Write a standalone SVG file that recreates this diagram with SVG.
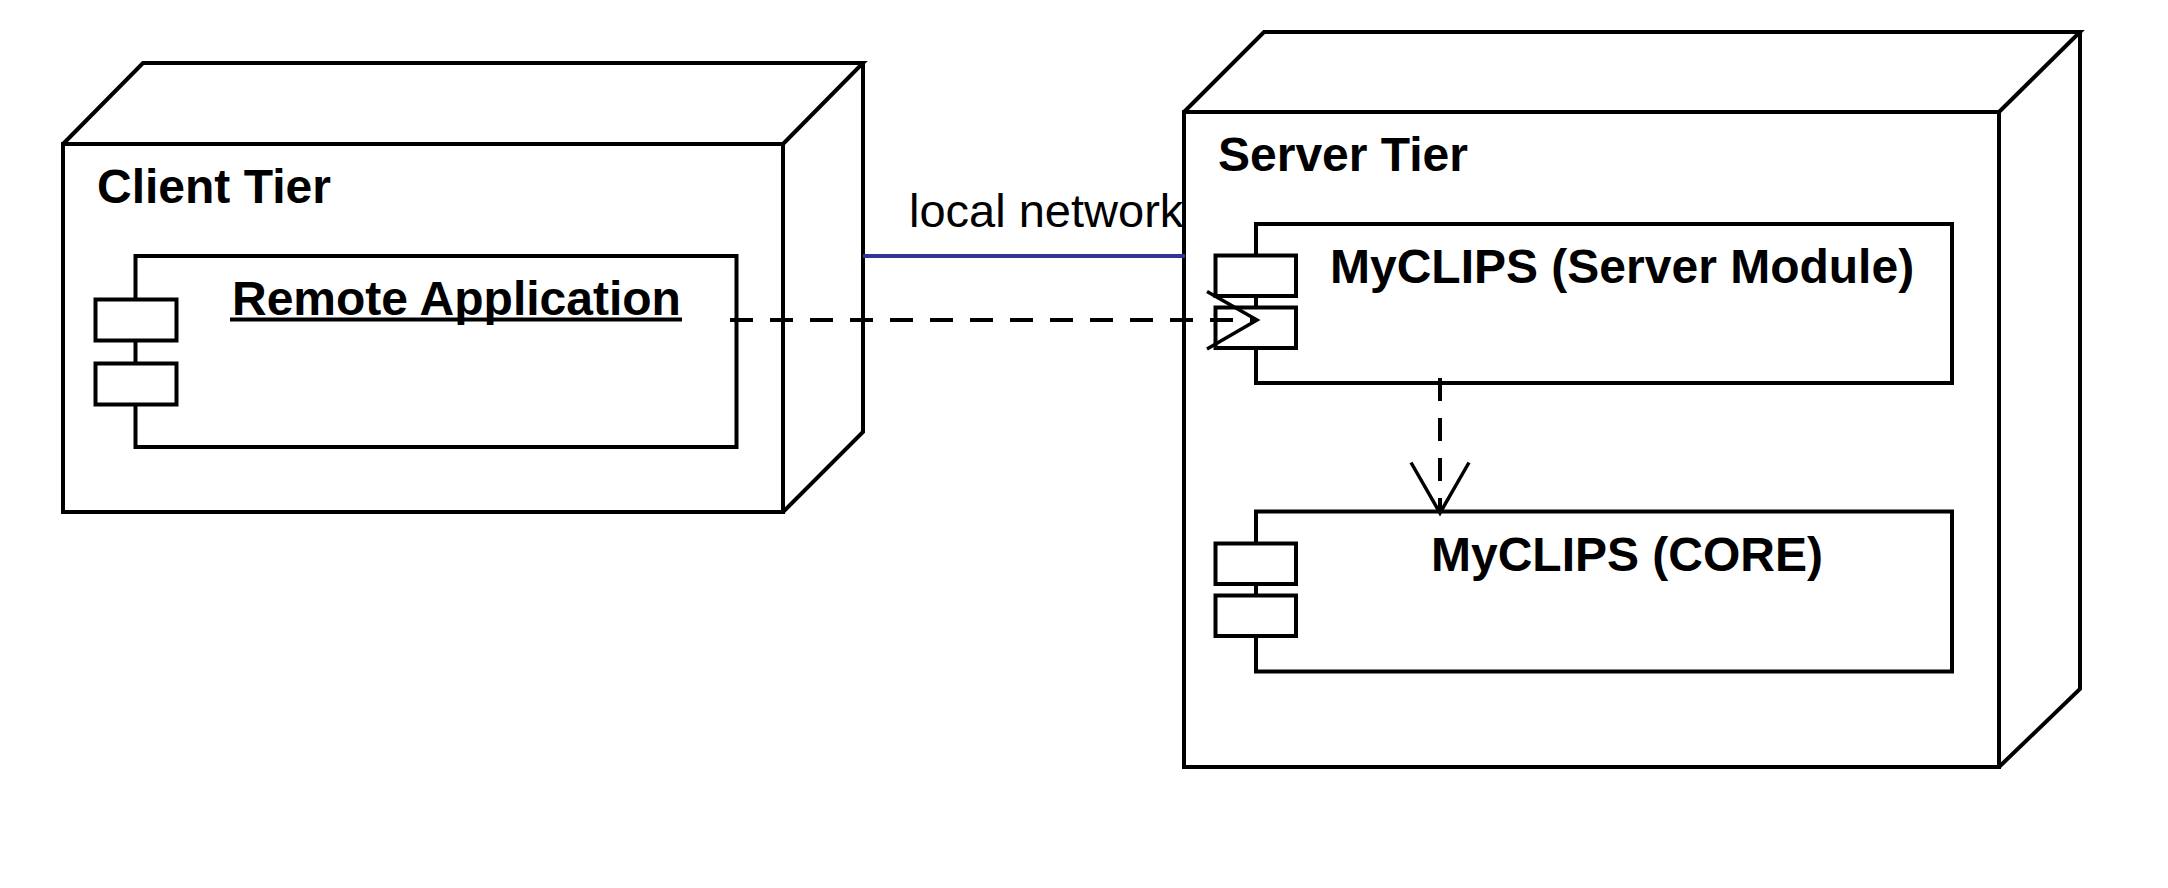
<svg xmlns="http://www.w3.org/2000/svg" width="2168" height="888" viewBox="0 0 2168 888">
<style>
.ln{fill:none;stroke:#000;stroke-width:4;stroke-linejoin:miter}
.fr{fill:#fff;stroke:#000;stroke-width:4}
.port{fill:#fff;stroke:#000;stroke-width:4}
.t{font-family:"Liberation Sans",Arial,sans-serif;font-weight:bold;font-size:48px;fill:#000}
.lbl{font-family:"Liberation Sans",Arial,sans-serif;font-size:47px;fill:#000}
.dash{fill:none;stroke:#000;stroke-width:4;stroke-dasharray:23 17}
.head{fill:none;stroke:#000;stroke-width:3.5}
</style>
<rect width="2168" height="888" fill="#fff"/>
<g id="client-tier">
  <path class="ln" d="M63,144 L143,63 H863 L783,144"/>
  <path class="ln" d="M863,63 V432 L783,512"/>
  <rect class="fr" x="63" y="144" width="720" height="368"/>
  <text class="t" x="97" y="203">Client Tier</text>
</g>
<g id="remote-application">
  <rect class="fr" x="135.5" y="256" width="601" height="191"/>
  <rect class="port" x="95.5" y="299.5" width="81" height="41"/>
  <rect class="port" x="95.5" y="363.5" width="81" height="41"/>
  <text class="t" x="232" y="315">Remote Application</text>
  <line x1="230" y1="319.5" x2="682" y2="319.5" stroke="#000" stroke-width="4"/>
</g>
<g id="server-tier">
  <path class="ln" d="M1184,112 L1264,32 H2080 L1999,112"/>
  <path class="ln" d="M2080,32 V689 L1999,767"/>
  <rect class="fr" x="1184" y="112" width="815" height="655"/>
  <text class="t" x="1218" y="171">Server Tier</text>
</g>
<g id="myclips-server-module">
  <rect class="fr" x="1256" y="224" width="696" height="159"/>
  <rect class="port" x="1215.5" y="255.5" width="80.5" height="40.5"/>
  <rect class="port" x="1215.5" y="307.5" width="80.5" height="40.5"/>
  <text class="t" x="1330" y="283">MyCLIPS (Server Module)</text>
</g>
<g id="myclips-core">
  <rect class="fr" x="1256" y="511.5" width="696" height="160"/>
  <rect class="port" x="1215.5" y="543.5" width="80.5" height="40.5"/>
  <rect class="port" x="1215.5" y="595.5" width="80.5" height="40.5"/>
  <text class="t" x="1431" y="571">MyCLIPS (CORE)</text>
</g>
<g id="connectors">
  <line x1="863" y1="256" x2="1185" y2="256" stroke="#333399" stroke-width="4"/>
  <text class="lbl" x="909" y="227">local network</text>
  <line class="dash" x1="730" y1="320" x2="1255" y2="320"/>
  <path class="head" d="M1207,291.5 L1257,320 L1207,349"/>
  <line class="dash" x1="1440" y1="378" x2="1440" y2="512"/>
  <path class="head" d="M1411,462.5 L1440,513 L1469,462.5"/>
</g>
</svg>
